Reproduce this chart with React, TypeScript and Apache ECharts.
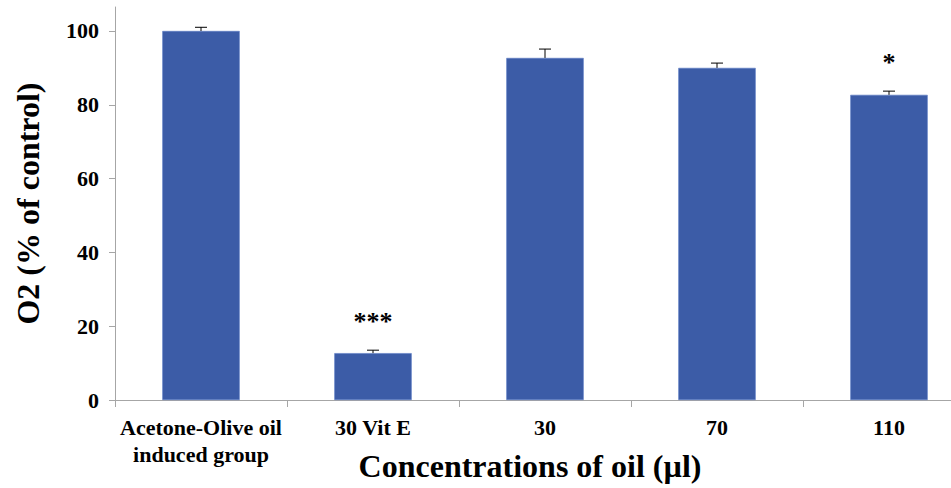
import React, { useEffect, useRef } from "react";
import * as echarts from "echarts";

const categories = ["Acetone-Olive oil\ninduced group", "30 Vit E", "30", "70", "110"];
const values = [100, 12.7, 92.7, 90.0, 82.7];
const errors = [1.0, 0.8, 2.4, 1.3, 1.0];
const stars = ["", "***", "", "", "*"];
const yTicks = [0, 20, 40, 60, 80, 100];

const FONT = "'Liberation Serif', 'Times New Roman', serif";

export default function App() {
  const ref = useRef<HTMLDivElement>(null);
  useEffect(() => {
    if (!ref.current) return;
    const chart = echarts.init(ref.current, null, { renderer: "svg" });
    const errData = values.map((v, i) => [i, v, v + errors[i], stars[i]]);
    chart.setOption({
      animation: false,
      grid: { left: 115, right: -24, top: 7, bottom: 88, outerBoundsMode: "none", containLabel: false },
      xAxis: {
        type: "category",
        data: categories,
        axisLine: { lineStyle: { color: "#A6A6A6", width: 1 } },
        axisTick: { show: true, length: 7, lineStyle: { color: "#A6A6A6" } },
        axisLabel: {
          color: "#000",
          fontFamily: FONT,
          fontWeight: "bold",
          fontSize: 22,
          lineHeight: 27,
          margin: 14,
          interval: 0,
        },
        name: "Concentrations of oil (\u00b5l)",
        nameLocation: "middle",
        nameGap: 50,
        nameMoveOverlap: false,
        nameTextStyle: {
          color: "#000",
          fontFamily: FONT,
          fontWeight: "bold",
          fontSize: 32,
          padding: [0, 30, 0, 0],
        },
      },
      yAxis: {
        type: "value",
        min: 0,
        max: 106.5,
        interval: 20,
        splitLine: { show: false },
        axisLine: { show: true, lineStyle: { color: "#A6A6A6", width: 1 } },
        axisTick: { show: true, length: 6, lineStyle: { color: "#A6A6A6" }, customValues: yTicks },
        axisLabel: {
          color: "#000",
          fontFamily: FONT,
          fontWeight: "bold",
          fontSize: 22,
          margin: 16,
          customValues: yTicks,
        },
        name: "O2 (% of control)",
        nameLocation: "middle",
        nameGap: 71,
        nameMoveOverlap: false,
        nameRotate: 90,
        nameTextStyle: {
          color: "#000",
          fontFamily: FONT,
          fontWeight: "bold",
          fontSize: 32,
        },
      },
      series: [
        {
          type: "bar",
          data: values,
          barWidth: "45%",
          itemStyle: { color: "#3C5CA7", borderColor: "#5B7BC4", borderWidth: 0.6 },
        },
        {
          type: "custom",
          data: errData,
          z: 10,
          renderItem: (params: any, api: any) => {
            const x = api.value(0);
            const top = api.coord([x, api.value(2)]);
            const base = api.coord([x, api.value(1)]);
            const star = api.value(3);
            const children: any[] = [
              { type: "line", shape: { x1: top[0], y1: top[1], x2: base[0], y2: base[1] }, style: { stroke: "#000", lineWidth: 1 } },
              { type: "line", shape: { x1: top[0] - 6, y1: top[1], x2: top[0] + 6, y2: top[1] }, style: { stroke: "#000", lineWidth: 1 } },
            ];
            if (star) {
              children.push({
                type: "text",
                x: top[0],
                y: top[1] - 16,
                style: {
                  text: star,
                  fill: "#000",
                  font: "bold 26px " + FONT,
                  align: "center",
                  verticalAlign: "bottom",
                },
              });
            }
            return { type: "group", children };
          },
        },
      ],
    });
    return () => chart.dispose();
  }, []);
  return <div ref={ref} style={{ width: 951, height: 488, position: "absolute", left: 0, top: 0, background: "#fff" }} />;
}
